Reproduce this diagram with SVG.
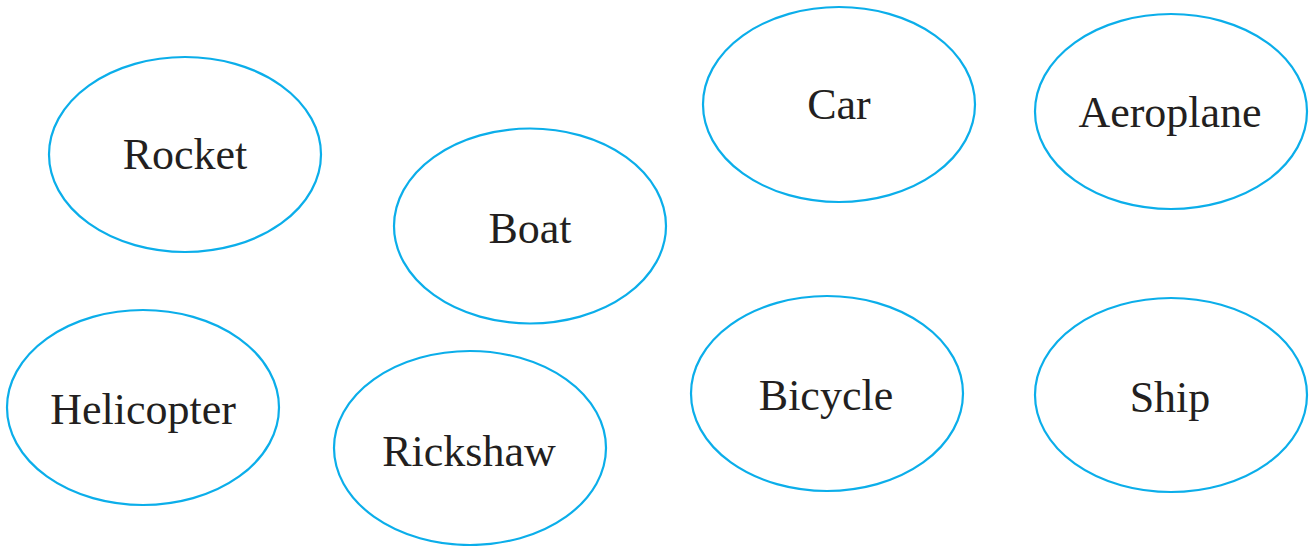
<svg xmlns="http://www.w3.org/2000/svg" width="1310" height="546" viewBox="0 0 1310 546">
<style>
.n ellipse{fill:#fff;stroke:#0BAEEA;stroke-width:2.2}
.n text{font-family:"Liberation Serif",serif;font-size:44px;fill:#231F20;text-anchor:middle}
</style>
<rect width="1310" height="546" fill="#fff"/>
<g id="connectors"></g>
<g id="rocket" class="n"><ellipse cx="185" cy="154.5" rx="136" ry="97.5"/><text x="185" y="169">Rocket</text></g>
<g id="boat" class="n"><ellipse cx="530" cy="226" rx="136" ry="97.5"/><text x="530" y="243">Boat</text></g>
<g id="car" class="n"><ellipse cx="839" cy="104.5" rx="136" ry="97.5"/><text x="839" y="119">Car</text></g>
<g id="aeroplane" class="n"><ellipse cx="1171" cy="111.5" rx="136" ry="97.5"/><text x="1170" y="127">Aeroplane</text></g>
<g id="helicopter" class="n"><ellipse cx="143" cy="407.5" rx="136" ry="97.5"/><text x="143" y="424">Helicopter</text></g>
<g id="rickshaw" class="n"><ellipse cx="470" cy="448" rx="136" ry="97"/><text x="469" y="466">Rickshaw</text></g>
<g id="bicycle" class="n"><ellipse cx="827" cy="393.5" rx="136" ry="97.5"/><text x="826" y="410">Bicycle</text></g>
<g id="ship" class="n"><ellipse cx="1171" cy="395" rx="136" ry="97"/><text x="1170" y="412">Ship</text></g>
</svg>
